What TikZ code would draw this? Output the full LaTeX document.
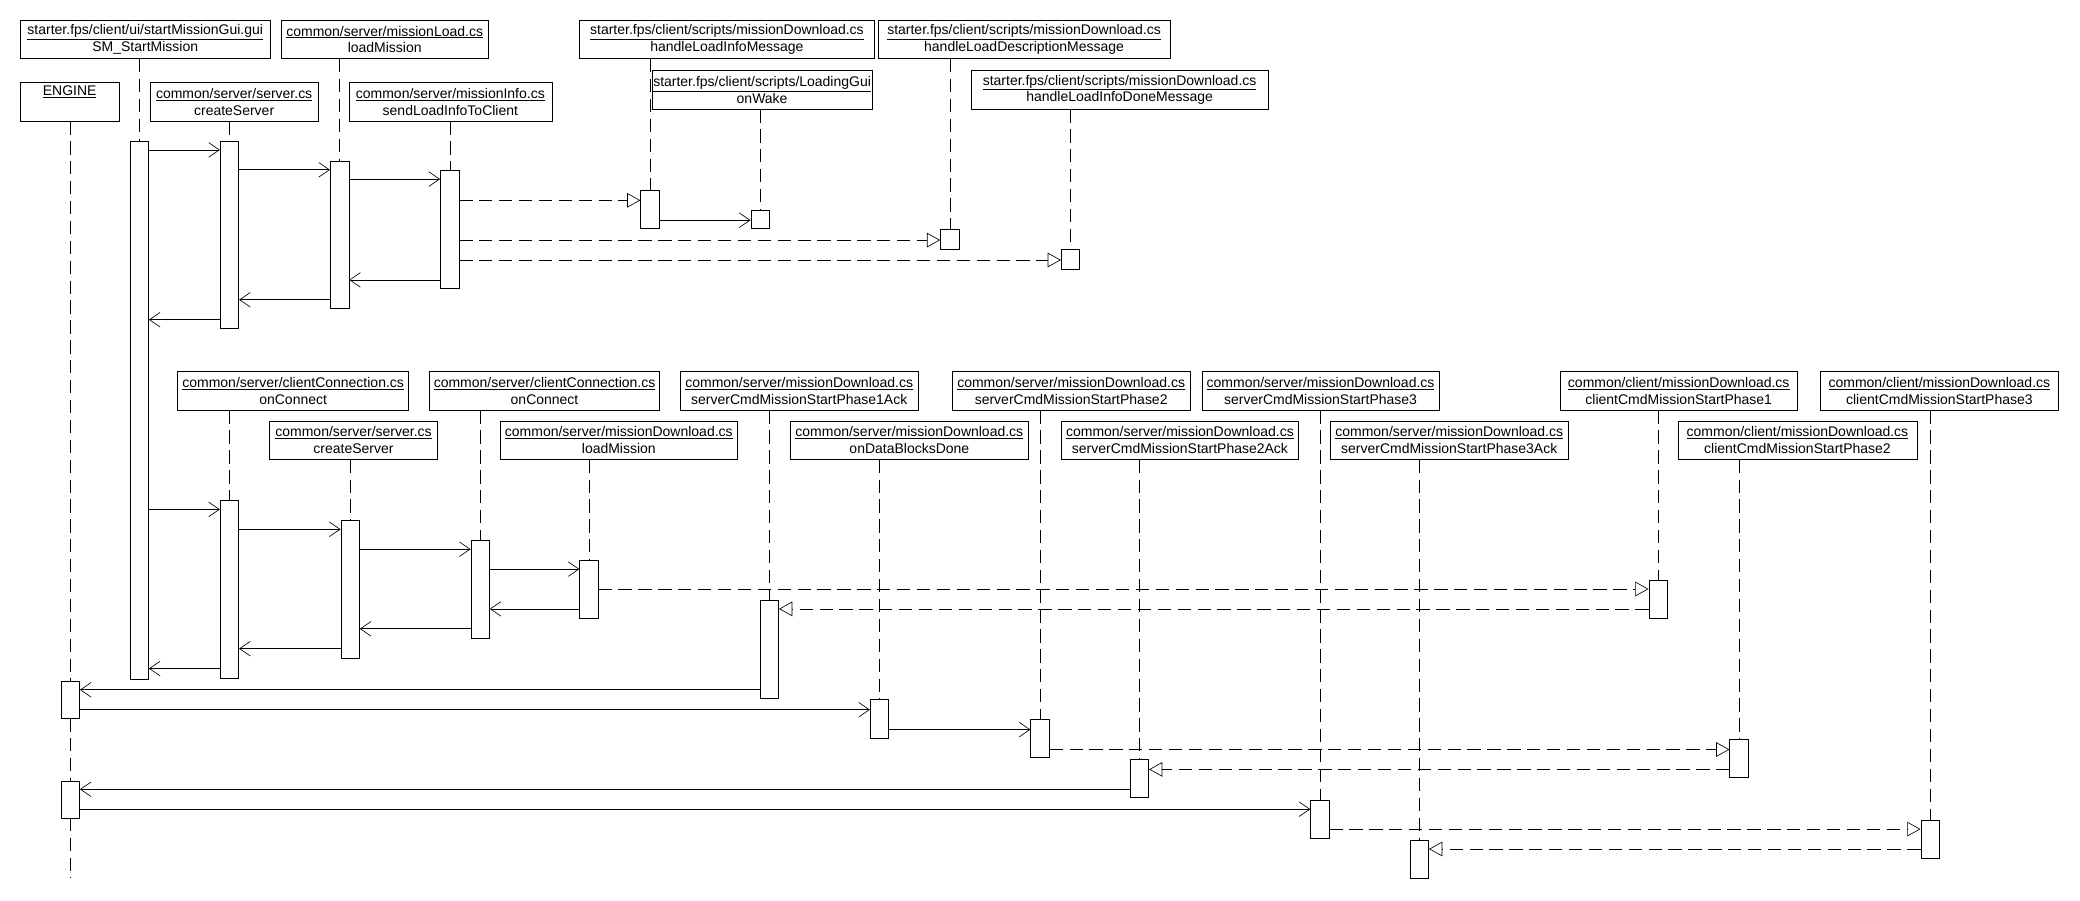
\documentclass[tikz,border=0pt]{standalone}
\usepackage{fontspec}
\setmainfont{Liberation Sans}
\usetikzlibrary{arrows.meta}
\usetikzlibrary{backgrounds}
\tikzset{
	obj/.style={draw, anchor=north, align=center, inner sep=1pt,
		minimum width=#1*0.05cm, minimum height=1.45cm,
		font=\fontsize{15}{18}\selectfont},
	bar/.style={draw, fill=white, inner sep=0pt, anchor=north,
		minimum width=0.7cm, minimum height=#1*0.05cm},
	life/.style={draw=black, dash pattern=on 0.5cm off 0.25cm},
	call/.style={-{Straight Barb[length=0.4cm,width=0.55cm]}},
	sig/.style={dash pattern=on 0.5cm off 0.25cm,
		-{Triangle[open,length=0.5cm,width=0.55cm]}}
}
\begin{document}
\begin{tikzpicture}[x=0.05cm, y=-0.05cm, line width=0.7pt]
	\useasboundingbox (0,0) rectangle (1568,678.5);

	% objects, first group
	\node[obj=75] (oA) at (52.5,62) {\underline{ENGINE}\\ \strut};
	\node[obj=189] (oB) at (109.5,15) {\underline{starter.fps/client/ui/startMissionGui.gui}\\ SM\_StartMission};
	\node[obj=127] (oC) at (176.5,62) {\underline{common/server/server.cs}\\ createServer};
	\node[obj=156] (oD) at (290,15) {\underline{common/server/missionLoad.cs}\\ loadMission};
	\node[obj=153] (oE) at (339.5,62) {\underline{common/server/missionInfo.cs}\\ sendLoadInfoToClient};
	\node[obj=222] (oF) at (548,15) {\underline{starter.fps/client/scripts/missionDownload.cs}\\ handleLoadInfoMessage};
	\node[obj=125] (oG) at (574.5,53) {\underline{starter.fps/client/scripts/LoadingGui}\\ onWake};
	\node[obj=220] (oH) at (772,15) {\underline{starter.fps/client/scripts/missionDownload.cs}\\ handleLoadDescriptionMessage};
	\node[obj=224] (oI) at (844,53) {\underline{starter.fps/client/scripts/missionDownload.cs}\\ handleLoadInfoDoneMessage};

	% objects, second group
	\node[obj=174] (oJ) at (221,280) {\underline{common/server/clientConnection.cs}\\ onConnect};
	\node[obj=127] (oK) at (266.5,317) {\underline{common/server/server.cs}\\ createServer};
	\node[obj=173] (oL) at (410.5,280) {\underline{common/server/clientConnection.cs}\\ onConnect};
	\node[obj=179] (oM) at (466.5,317) {\underline{common/server/missionDownload.cs}\\ loadMission};
	\node[obj=179] (oN) at (602.5,280) {\underline{common/server/missionDownload.cs}\\ serverCmdMissionStartPhase1Ack};
	\node[obj=179] (oO) at (685.5,317) {\underline{common/server/missionDownload.cs}\\ onDataBlocksDone};
	\node[obj=179] (oP) at (807.5,280) {\underline{common/server/missionDownload.cs}\\ serverCmdMissionStartPhase2};
	\node[obj=179] (oQ) at (889.5,317) {\underline{common/server/missionDownload.cs}\\ serverCmdMissionStartPhase2Ack};
	\node[obj=179] (oR) at (995.5,280) {\underline{common/server/missionDownload.cs}\\ serverCmdMissionStartPhase3};
	\node[obj=179] (oS) at (1092.5,317) {\underline{common/server/missionDownload.cs}\\ serverCmdMissionStartPhase3Ack};
	\node[obj=179] (oT) at (1265.5,280) {\underline{common/client/missionDownload.cs}\\ clientCmdMissionStartPhase1};
	\node[obj=180] (oU) at (1355,317) {\underline{common/client/missionDownload.cs}\\ clientCmdMissionStartPhase2};
	\node[obj=180] (oV) at (1462,280) {\underline{common/client/missionDownload.cs}\\ clientCmdMissionStartPhase3};

	% activation bars
	\node[bar=28] (bA1) at (53,513) {};
	\node[bar=28] (bA2) at (53,589) {};
	\node[bar=406] (bB) at (105,106) {};
	\node[bar=141] (bC) at (173,106) {};
	\node[bar=111] (bD) at (256,121) {};
	\node[bar=89] (bE) at (339,128) {};
	\node[bar=29] (bF) at (490,143) {};
	\node[bar=14] (bG) at (573,158) {};
	\node[bar=15] (bH) at (716,173) {};
	\node[bar=15] (bI) at (807,188) {};
	\node[bar=134] (bJ) at (173,377) {};
	\node[bar=104] (bK) at (264,392) {};
	\node[bar=74] (bL) at (362,407) {};
	\node[bar=44] (bM) at (444,422) {};
	\node[bar=74] (bN) at (580,452) {};
	\node[bar=29] (bO) at (663,527) {};
	\node[bar=29] (bP) at (784,542) {};
	\node[bar=29] (bQ) at (859,572) {};
	\node[bar=29] (bR) at (995,603) {};
	\node[bar=29] (bS) at (1070,633) {};
	\node[bar=29] (bT) at (1250,437) {};
	\node[bar=29] (bU) at (1311,557) {};
	\node[bar=29] (bV) at (1455,618) {};

	% lifelines
	\begin{scope}[on background layer]
		\path[life] (bA1.north |- oA.south) -- (53,662);
		\foreach \n in {B,C,D,E,F,G,H,I,J,K,L,M,N,O,P,Q,R,S,T,U,V}
			\path[life] (b\n.north |- o\n.south) -- (b\n.north);
	\end{scope}

	% messages, first group
	\draw[call] (bB.east |- 0,113) -- (bC.west |- 0,113);
	\draw[call] (bC.east |- 0,128) -- (bD.west |- 0,128);
	\draw[call] (bD.east |- 0,135) -- (bE.west |- 0,135);
	\draw[sig] (bE.east |- 0,151) -- (bF.west |- 0,151);
	\draw[call] (bF.east |- 0,166) -- (bG.west |- 0,166);
	\draw[sig] (bE.east |- 0,181) -- (bH.west |- 0,181);
	\draw[sig] (bE.east |- 0,196) -- (bI.west |- 0,196);
	\draw[call] (bE.west |- 0,211) -- (bD.east |- 0,211);
	\draw[call] (bD.west |- 0,226) -- (bC.east |- 0,226);
	\draw[call] (bC.west |- 0,241) -- (bB.east |- 0,241);

	% messages, second group
	\draw[call] (bB.east |- 0,384) -- (bJ.west |- 0,384);
	\draw[call] (bJ.east |- 0,399) -- (bK.west |- 0,399);
	\draw[call] (bK.east |- 0,414) -- (bL.west |- 0,414);
	\draw[call] (bL.east |- 0,429) -- (bM.west |- 0,429);
	\draw[sig] (bM.east |- 0,444) -- (bT.west |- 0,444);
	\draw[sig] (bT.west |- 0,459) -- (bN.east |- 0,459);
	\draw[call] (bM.west |- 0,459) -- (bL.east |- 0,459);
	\draw[call] (bL.west |- 0,474) -- (bK.east |- 0,474);
	\draw[call] (bK.west |- 0,489) -- (bJ.east |- 0,489);
	\draw[call] (bJ.west |- 0,504) -- (bB.east |- 0,504);
	\draw[call] (bN.west |- 0,520) -- (bA1.east |- 0,520);
	\draw[call] (bA1.east |- 0,535) -- (bO.west |- 0,535);
	\draw[call] (bO.east |- 0,550) -- (bP.west |- 0,550);
	\draw[sig] (bP.east |- 0,565) -- (bU.west |- 0,565);
	\draw[sig] (bU.west |- 0,580) -- (bQ.east |- 0,580);
	\draw[call] (bQ.west |- 0,595) -- (bA2.east |- 0,595);
	\draw[call] (bA2.east |- 0,610) -- (bR.west |- 0,610);
	\draw[sig] (bR.east |- 0,625) -- (bV.west |- 0,625);
	\draw[sig] (bV.west |- 0,640) -- (bS.east |- 0,640);
\end{tikzpicture}
\end{document}
